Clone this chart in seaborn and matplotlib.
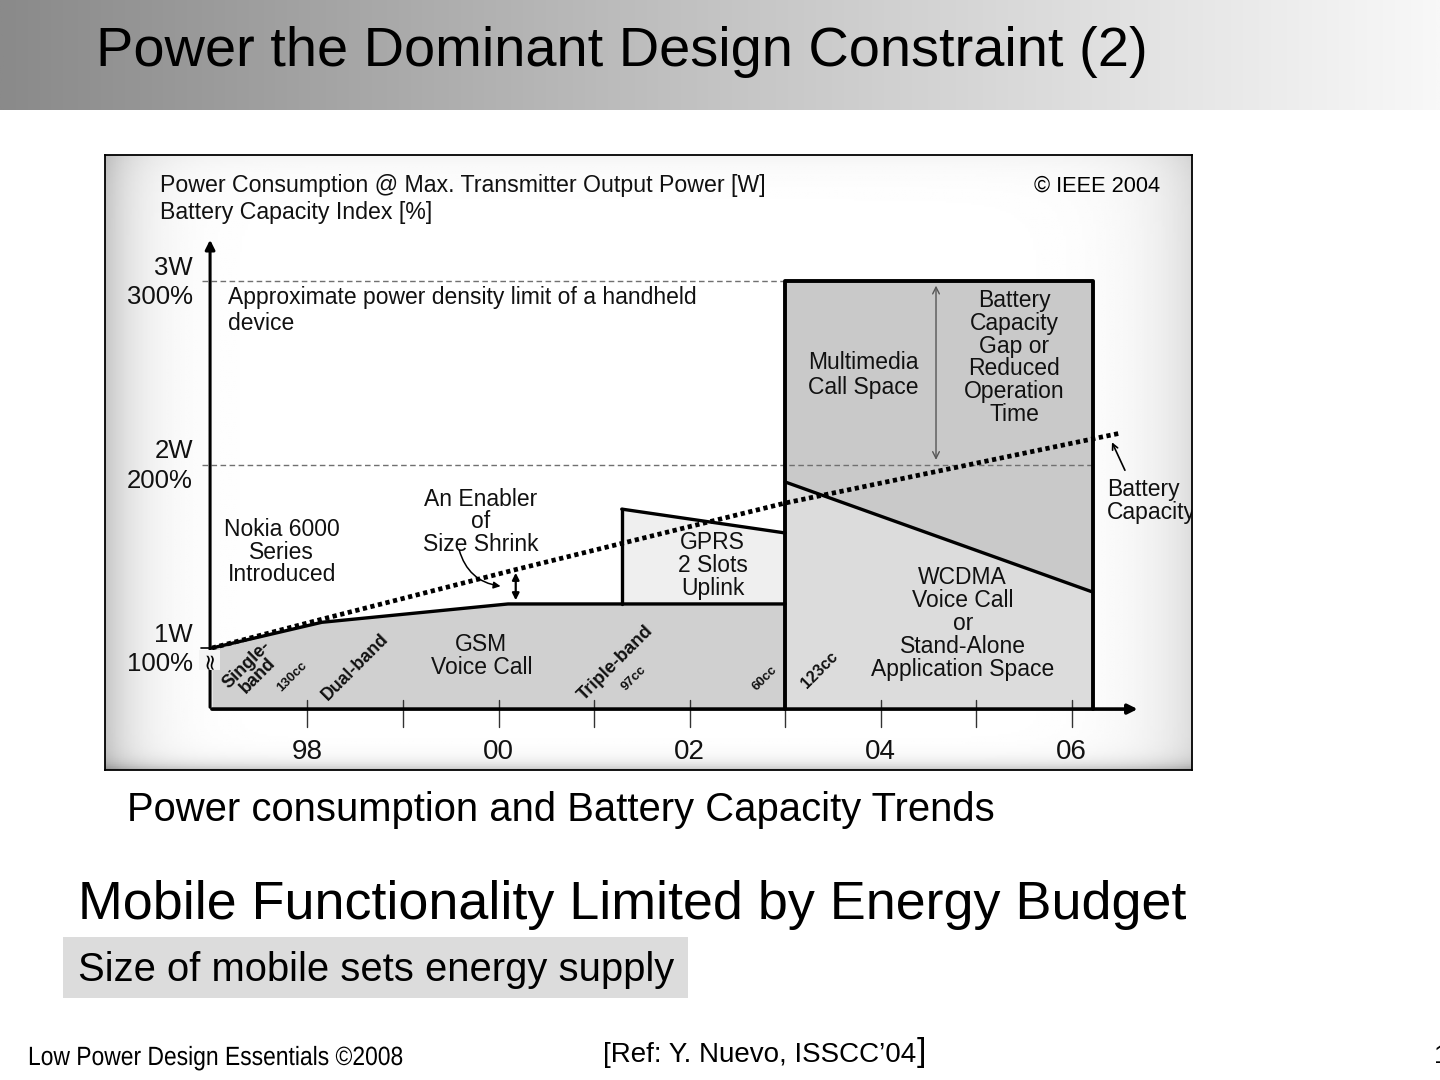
import numpy as np
import pandas as pd
import matplotlib
matplotlib.use("Agg")
import matplotlib.pyplot as plt
from matplotlib.colors import LinearSegmentedColormap
from matplotlib.textpath import TextPath
from matplotlib.patches import PathPatch
from matplotlib.font_manager import FontProperties
from matplotlib.transforms import Affine2D, IdentityTransform
import seaborn as sns

# chart values (year, watts)
gsm_year = [1997.0, 1998.15, 2000.1, 2003.0]
gsm_power = [1.0, 1.14, 1.24, 1.24]
gprs_year = [2001.29, 2003.0]
gprs_power = [1.757, 1.627]
wcdma_year = [2003.0, 2006.22]
wcdma_power = [1.905, 1.305]
battery_year = [1997.0, 1998.1, 2000.2, 2003.0, 2006.5]
battery_index = [1.0, 1.15, 1.43, 1.79, 2.17]
limit_power = 3.0
year_ticks = [1998, 2000, 2002, 2004, 2006]
year_labels = ["98", "00", "02", "04", "06"]
minor_years = [1998, 1999, 2000, 2001, 2002, 2003, 2004, 2005, 2006]
y_levels = [3.0, 2.0, 1.0]
y_watt_labels = ["3W", "2W", "1W"]
y_pct_labels = ["300%", "200%", "100%"]

sns.set_theme(style="white")
plt.rcParams['font.family'] = ['Liberation Sans', 'DejaVu Sans']
plt.rcParams['text.color'] = 'black'

fig = plt.figure(figsize=(14.4, 10.8), dpi=100)
fig.patch.set_facecolor("white")

# title bar gradient
tb = fig.add_axes([0, 1 - 110 / 1080, 1, 110 / 1080])
grad = np.linspace(0, 1, 512).reshape(1, -1)
cm = LinearSegmentedColormap.from_list("tb", ["#8a8a8a", "#c4c4c4", "#f8f8f8"])
tb.imshow(grad, aspect="auto", cmap=cm, extent=[0, 1, 0, 1])
tb.set_axis_off()
fig.text(96 / 1440, 1 - 52 / 1080, "Power the Dominant Design Constraint (2)",
         fontsize=40.3, va="center", ha="left", color="black")

# chart panel
ax = fig.add_axes([105 / 1440, 1 - 770 / 1080, 1087 / 1440, 615 / 1080])
x0, x1 = 1995.88, 2007.26
y0, y1 = 0.335, 3.687
ax.set_xlim(x0, x1)
ax.set_ylim(y0, y1)
ax.set_xticks([])
ax.set_yticks([])
for s in ax.spines.values():
    s.set_color("black")
    s.set_linewidth(1.3)
    s.set_zorder(10)

# scanned-paper vignette
fx = np.linspace(0, 1, 400)[None, :]
fy = np.linspace(0, 1, 300)[:, None]
vig = (1 - 0.22 * np.exp(-fx / 0.03) - 0.13 * np.exp(-(1 - fx) / 0.04)
       - 0.2 * np.exp(-fy / 0.012) - 0.04 * np.exp(-(1 - fy) / 0.03))
ax.imshow(vig, aspect="auto", cmap="gray", vmin=0, vmax=1, origin="lower",
          extent=[x0, x1, y0, y1], zorder=0)

base = 0.667
ax_x = 1996.98
lw = 2.4

# fills
ax.fill_between(gsm_year, base, gsm_power, color="#d0d0d0", zorder=1, lw=0)
ax.fill_between(gprs_year, gsm_power[-1], gprs_power, color="#efefef", zorder=1, lw=0)
ax.fill_between(wcdma_year, base, wcdma_power, color="#dcdcdc", zorder=1, lw=0)
ax.fill_between(wcdma_year, wcdma_power, limit_power, color="#c9c9c9", zorder=1, lw=0)

# dashed limit lines
ax.plot([ax_x - 0.08, wcdma_year[0]], [3.0, 3.0], ls=(0, (4, 2.5)), color="#707070", lw=1.0, zorder=2)
ax.plot([ax_x - 0.08, wcdma_year[1]], [2.0, 2.0], ls=(0, (4, 2.5)), color="#707070", lw=1.0, zorder=2)

# outlines
sns.lineplot(x=gsm_year, y=gsm_power, ax=ax, color="black", lw=lw, zorder=4)
ax.plot([gprs_year[0], gprs_year[0]], [gsm_power[-1], gprs_power[0]], color="black", lw=lw, zorder=4)
sns.lineplot(x=gprs_year, y=gprs_power, ax=ax, color="black", lw=lw, zorder=4)
sns.lineplot(x=wcdma_year, y=wcdma_power, ax=ax, color="black", lw=lw, zorder=4)
ax.plot([wcdma_year[0], wcdma_year[0], wcdma_year[1], wcdma_year[1]],
        [base, limit_power, limit_power, base], color="black", lw=lw + 0.4, zorder=4)

# battery capacity trend
sns.lineplot(x=battery_year, y=battery_index, ax=ax, color="black", lw=3.4,
             linestyle=(0, (0.9, 0.75)), zorder=5)

# axes arrows
ax.annotate("", xy=(ax_x, 3.24), xytext=(ax_x, base - 0.005),
            arrowprops=dict(arrowstyle="-|>", color="black", lw=2.2, mutation_scale=14), zorder=6)
ax.annotate("", xy=(2006.72, base), xytext=(ax_x - 0.01, base),
            arrowprops=dict(arrowstyle="-|>", color="black", lw=2.6, mutation_scale=14), zorder=6)

# ticks
for yr in minor_years:
    ax.plot([yr, yr], [0.717, 0.569], color="#333333", lw=1.0, zorder=3)
ax.plot([ax_x - 0.1, ax_x], [1.0, 1.0], color="black", lw=1.2, zorder=6)
ax.text(ax_x - 0.01, 0.935, "≈", rotation=90, fontsize=16, ha="center", va="center",
        color="black", zorder=7, family=["DejaVu Sans"],
        bbox=dict(boxstyle="square,pad=0.02", fc="#f4f4f4", ec="none"))

tc = "#111111"
for yr, lab in zip(year_ticks, year_labels):
    ax.text(yr, 0.433, lab, ha="center", va="center", fontsize=20, color=tc)
for lv, w, p in zip(y_levels, y_watt_labels, y_pct_labels):
    ax.text(1996.80, lv + 0.072, w, ha="right", va="center", fontsize=18.5, color=tc)
    ax.text(1996.80, lv - 0.088, p, ha="right", va="center", fontsize=18.5, color=tc)

fs = 16.5
ax.text(0.051, 0.951, "Power Consumption @ Max. Transmitter Output Power [W]",
        transform=ax.transAxes, ha="left", va="center", fontsize=16.7, color=tc)
ax.text(0.051, 0.907, "Battery Capacity Index [%]",
        transform=ax.transAxes, ha="left", va="center", fontsize=16.7, color=tc)
ax.text(0.9706, 0.950, "© IEEE 2004", transform=ax.transAxes, ha="right",
        va="center", fontsize=15.7, color="black")

ax.text(1997.17, 2.84, "Approximate power density limit of a handheld\ndevice",
        ha="left", va="center", fontsize=fs, color=tc, linespacing=1.15)
ax.text(1997.73, 1.523, "Nokia 6000\nSeries\nIntroduced", ha="center", va="center",
        fontsize=fs, color=tc, linespacing=0.99)
ax.text(1999.81, 1.687, "An Enabler\nof\nSize Shrink", ha="center", va="center",
        fontsize=fs, color=tc, linespacing=0.99)
ax.text(2002.24, 1.450, "GPRS\n2 Slots\nUplink", ha="center", va="center",
        fontsize=fs, color=tc, linespacing=0.99)
ax.text(1999.82, 0.956, "GSM\nVoice Call", ha="center", va="center",
        fontsize=fs, color=tc, linespacing=0.97)
ax.text(2003.82, 2.488, "Multimedia\nCall Space", ha="center", va="center",
        fontsize=fs, color=tc, linespacing=1.11)
ax.text(2005.40, 2.583, "Battery\nCapacity\nGap or\nReduced\nOperation\nTime",
        ha="center", va="center", fontsize=fs, color=tc, linespacing=0.98)
ax.text(2004.86, 1.136, "WCDMA\nVoice Call\nor\nStand-Alone\nApplication Space",
        ha="center", va="center", fontsize=fs, color=tc, linespacing=1.0)
ax.text(2006.37, 1.801, "Battery\nCapacity", ha="left", va="center",
        fontsize=fs, color=tc, linespacing=0.98, clip_on=True)

# rotated band labels
rot = dict(rotation=45, ha="center", va="center", color=tc, fontweight="bold",
           rotation_mode="anchor")
ax.text(1997.42, 0.880, "Single-\nband", fontsize=13, linespacing=0.95, **rot)
ax.text(1997.84, 0.842, "130cc", fontsize=9.5, **rot)
ax.text(1998.50, 0.896, "Dual-band", fontsize=12.8, **rot)
ax.text(2001.23, 0.918, "Triple-band", fontsize=13.2, **rot)
ax.text(2001.42, 0.836, "97cc", fontsize=9.5, **rot)
ax.text(2002.79, 0.836, "60cc", fontsize=9.5, **rot)
ax.text(2003.36, 0.880, "123cc", fontsize=11.5, **rot)

# annotation arrows
ax.annotate("", xy=(2000.18, 1.245), xytext=(2000.18, 1.425),
            arrowprops=dict(arrowstyle="<|-|>", color="black", lw=1.6, mutation_scale=10), zorder=6)
ax.annotate("", xy=(2000.05, 1.335), xytext=(1999.58, 1.55),
            arrowprops=dict(arrowstyle="-|>", color="black", lw=1.1, mutation_scale=10,
                            connectionstyle="arc3,rad=0.35"), zorder=6)
ax.annotate("", xy=(2004.58, 2.01), xytext=(2004.58, 2.99),
            arrowprops=dict(arrowstyle="<->", color="#555555", lw=1.0, mutation_scale=12), zorder=6)
ax.annotate("", xy=(2006.41, 2.135), xytext=(2006.57, 1.955),
            arrowprops=dict(arrowstyle="->", color="black", lw=1.2, mutation_scale=10), zorder=6)

# slide texts
fig.text(127 / 1440, 1 - 810 / 1080, "Power consumption and Battery Capacity Trends",
         fontsize=28.8, va="center", ha="left")
fig.text(78 / 1440, 1 - 905 / 1080, "Mobile Functionality Limited by Energy Budget",
         fontsize=38.8, va="center", ha="left")
fig.patches.append(plt.Rectangle((63 / 1440, 1 - 998 / 1080), 625 / 1440, 61 / 1080,
                                 transform=fig.transFigure, fc="#dcdcdc", ec="none", zorder=0))
fig.text(78 / 1440, 1 - 970 / 1080, "Size of mobile sets energy supply",
         fontsize=28.8, va="center", ha="left")

# condensed footer text (horizontally squeezed outline)
foot = TextPath((0, 0), "Low Power Design Essentials ©2008", size=26.4,
                prop=FontProperties(family="Liberation Sans"))
fig.patches.append(PathPatch(foot, fc="black", ec="none", lw=0,
                             transform=Affine2D().scale(0.866, 1).translate(28, 1080 - 1065)
                             + IdentityTransform()))

fig.text(603 / 1440, 1 - 1055 / 1080, "[Ref: Y. Nuevo, ISSCC’04", fontsize=20,
         va="center", ha="left")
fig.text(917 / 1440, 1 - 1053 / 1080, "]", fontsize=24, va="center", ha="left")
fig.text(1434 / 1440, 1 - 1056 / 1080, "1", fontsize=19, va="center", ha="left")

fig.savefig("out.png", dpi=100)
